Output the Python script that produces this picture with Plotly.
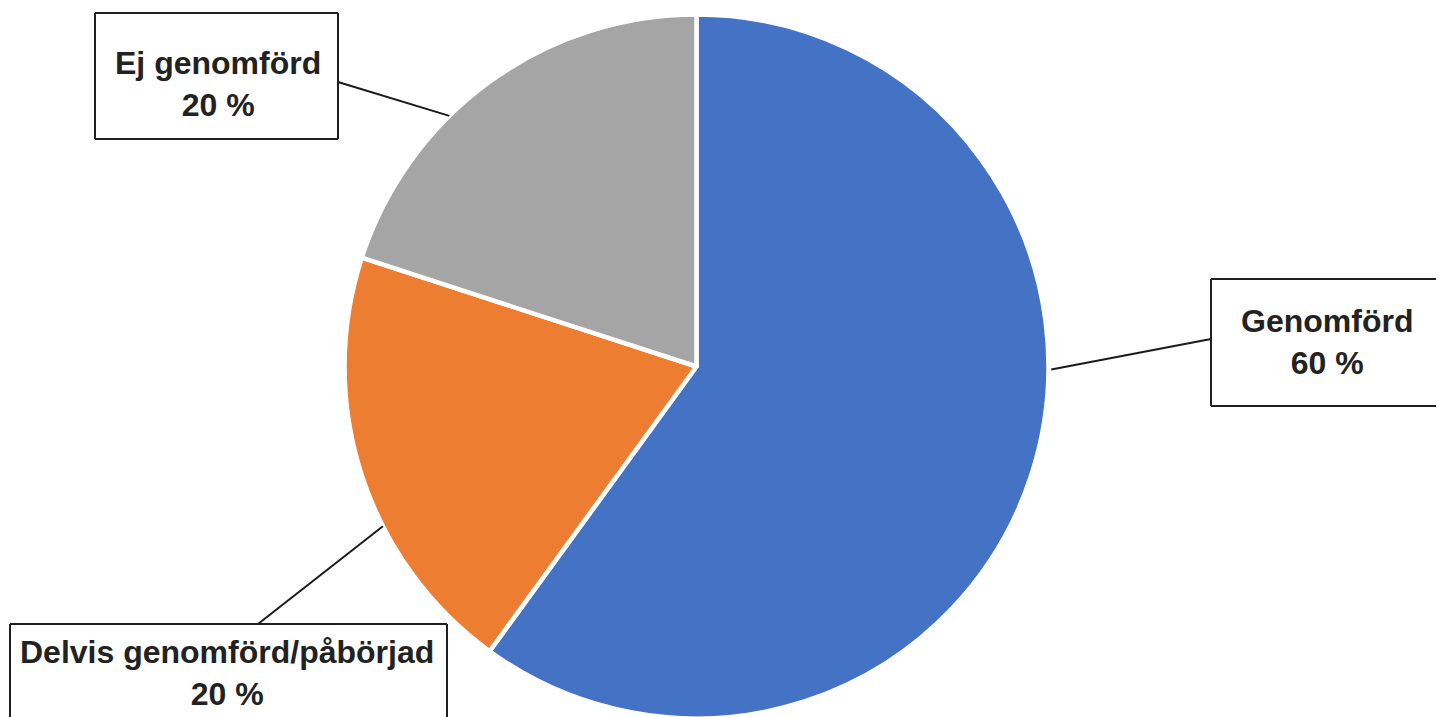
import math
import plotly.graph_objects as go

# ---- data ----
labels = ["Genomförd", "Delvis genomförd/påbörjad", "Ej genomförd"]
values = [60, 20, 20]
colors = ["#4472C4", "#ED7D31", "#A5A5A5"]

W, H = 1444, 717
OFF = 8  # default page body margin in the browser
dom_x = [0.2330, 0.7206]
dom_y = [0.0091, 0.9909]

total = sum(values)
pct = [f"{v / total * 100:.0f} %" for v in values]

fig = go.Figure(go.Pie(
    labels=labels,
    values=values,
    sort=False,
    direction="clockwise",
    rotation=0,
    marker=dict(colors=colors, line=dict(color="white", width=4.5)),
    textinfo="none",
    hoverinfo="label+percent",
    showlegend=False,
    domain=dict(x=dom_x, y=dom_y),
))

# pie geometry in screen pixels (derived from the domain)
cx = (dom_x[0] + dom_x[1]) / 2 * W + OFF
cy = (1 - (dom_y[0] + dom_y[1]) / 2) * H + OFF
r = min((dom_x[1] - dom_x[0]) * W, (dom_y[1] - dom_y[0]) * H) / 2


def px(x):
    return (x - OFF) / W


def py(y):
    return 1 - (y - OFF) / H


# label styling: box (x0, y0, x1, y1 in screen px), sides drawn, text centre,
# leader anchor on the box, leader angle on the pie
label_style = {
    "Genomförd": dict(box=(1211, 279, 1444, 406), sides="tlb", tc=(1327, 342),
                      anchor=(1211, 339), ang=90.5, rf=1.008),
    "Delvis genomförd/påbörjad": dict(box=(10, 624, 447, 717), sides="ltr", tc=(227, 673),
                                      anchor=(258, 624), ang=243, rf=1.0),
    "Ej genomförd": dict(box=(95, 13, 338, 139), sides="tlbr", tc=(218, 84),
                         anchor=(338, 82), ang=315.4, rf=1.0),
}

shapes = []
annotations = []
line_style = dict(color="#1f1f1f", width=2)
for lab, p in zip(labels, pct):
    s = label_style[lab]
    x0, y0, x1, y1 = s["box"]
    segs = {
        "t": ((x0, y0), (x1, y0)),
        "b": ((x0, y1), (x1, y1)),
        "l": ((x0, y0), (x0, y1)),
        "r": ((x1, y0), (x1, y1)),
    }
    for side in s["sides"]:
        (ax0, ay0), (ax1, ay1) = segs[side]
        shapes.append(dict(type="line", xref="paper", yref="paper",
                           x0=px(ax0), y0=py(ay0), x1=px(ax1), y1=py(ay1),
                           line=line_style))
    a = math.radians(s["ang"])
    ex = cx + r * s["rf"] * math.sin(a)
    ey = cy - r * s["rf"] * math.cos(a)
    ax, ay = s["anchor"]
    shapes.append(dict(type="line", xref="paper", yref="paper",
                       x0=px(ex), y0=py(ey), x1=px(ax), y1=py(ay),
                       line=dict(color="#1a1a1a", width=2)))
    annotations.append(dict(xref="paper", yref="paper", x=px(s["tc"][0]), y=py(s["tc"][1]),
                            xanchor="center", yanchor="middle", showarrow=False,
                            text=f"<b>{lab}<br>{p}</b>", align="center",
                            font=dict(family="Liberation Sans, Arial, sans-serif", size=32, color="#222222")))

fig.update_layout(
    width=W, height=H,
    margin=dict(l=0, r=0, t=0, b=0),
    paper_bgcolor="white",
    plot_bgcolor="white",
    shapes=shapes,
    annotations=annotations,
)

fig.write_html("out.html")
